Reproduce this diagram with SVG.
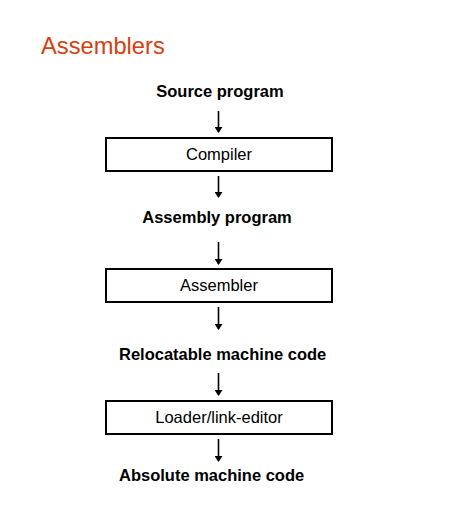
<svg xmlns="http://www.w3.org/2000/svg" width="471" height="512" viewBox="0 0 471 512">
<style>
.box{fill:#fff;stroke:#000;stroke-width:2}
.lbl{font-family:"Liberation Sans",Arial,sans-serif;font-size:16.5px;font-weight:bold;fill:#000}
.nt{font-family:"Liberation Sans",Arial,sans-serif;font-size:16.5px;fill:#000;text-anchor:middle}
.ar{stroke:#000;stroke-width:1.6;fill:none;marker-end:url(#ah)}
</style>
<defs>
<marker id="ah" markerWidth="6" markerHeight="8" refX="5" refY="4" orient="auto" markerUnits="userSpaceOnUse" viewBox="0 0 6 8">
<path d="M0,0 L6,4 L0,8 z" fill="#000"/>
</marker>
</defs>
<rect width="471" height="512" fill="#fff"/>
<text x="41" y="54" font-family="Liberation Sans,Arial,sans-serif" font-size="23.7" fill="#d4400f">Assemblers</text>
<text class="lbl" x="220" y="97" text-anchor="middle">Source program</text>
<text class="lbl" x="217" y="223" text-anchor="middle">Assembly program</text>
<text class="lbl" x="119" y="360">Relocatable machine code</text>
<text class="lbl" x="119" y="481">Absolute machine code</text>
<g id="compiler"><rect class="box" x="106" y="138" width="226" height="33"/><text class="nt" x="219" y="160">Compiler</text></g>
<g id="assembler"><rect class="box" x="106" y="269" width="226" height="33"/><text class="nt" x="219" y="291">Assembler</text></g>
<g id="loader"><rect class="box" x="106" y="401" width="226" height="33"/><text class="nt" x="219" y="423">Loader/link-editor</text></g>
<g id="connectors">
<line class="ar" x1="218.5" y1="111" x2="218.5" y2="132"/>
<line class="ar" x1="218.5" y1="176" x2="218.5" y2="197"/>
<line class="ar" x1="218.5" y1="242" x2="218.5" y2="264"/>
<line class="ar" x1="218.5" y1="307" x2="218.5" y2="329"/>
<line class="ar" x1="218.5" y1="373" x2="218.5" y2="395"/>
<line class="ar" x1="218.5" y1="439" x2="218.5" y2="461"/>
</g>
</svg>
